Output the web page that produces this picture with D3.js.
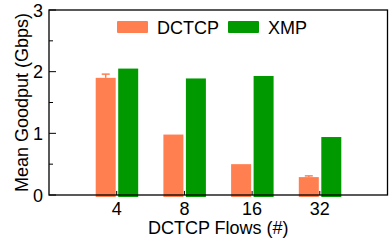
<!DOCTYPE html>
<html>
<head>
<meta charset="utf-8">
<script src="https://cdn.jsdelivr.net/npm/d3@7"></script>
<style>
  body { margin: 0; background: #fff; }
  text { font-family: "Liberation Sans", Arial, sans-serif; fill: #000; }
</style>
</head>
<body>
<svg id="chart" width="389" height="240"></svg>
<script>
const flows = ['4', '8', '16', '32']
const dctcp = [1.90, 0.98, 0.50, 0.29]
const dctcpErr = [0.06, 0, 0, 0.02]
const xmp = [2.05, 1.89, 1.93, 0.94]
const yTicks = [0, 1, 2, 3]

const colors = { DCTCP: '#ff7f50', XMP: '#009a00' }

let width = 389,
    height = 240,
    margin = { top: 10, right: 1.5, bottom: 45, left: 49 }

let svg = d3.select('#chart')

let x = d3.scaleLinear()
    .domain([0, flows.length + 1])
    .range([margin.left, width - margin.right])

let y = d3.scaleLinear()
    .domain([0, 3])
    .range([height - margin.bottom, margin.top])

let barW = 20

// bars
svg.append('g')
    .selectAll('rect.dctcp')
    .data(dctcp)
    .join('rect')
    .attr('class', 'dctcp')
    .attr('x', (d, i) => x(i + 1) - 1 - barW)
    .attr('width', barW)
    .attr('y', d => y(d))
    .attr('height', d => y(0) - y(d) + 2)
    .style('fill', colors.DCTCP)

svg.append('g')
    .selectAll('rect.xmp')
    .data(xmp)
    .join('rect')
    .attr('class', 'xmp')
    .attr('x', (d, i) => x(i + 1) + 1.5)
    .attr('width', barW)
    .attr('y', d => y(d))
    .attr('height', d => y(0) - y(d) + 2)
    .style('fill', colors.XMP)

// error bars on dctcp (only where visible)
let errData = dctcp.map((d, i) => ({ v: d, e: dctcpErr[i], i: i })).filter(d => d.e > 0)
let err = svg.append('g')
    .selectAll('g')
    .data(errData)
    .join('g')
    .style('stroke', colors.DCTCP)
    .style('stroke-width', 1.5)
err.append('line')
    .attr('x1', d => x(d.i + 1) - 1 - barW / 2)
    .attr('x2', d => x(d.i + 1) - 1 - barW / 2)
    .attr('y1', d => y(d.v))
    .attr('y2', d => y(d.v + d.e))
err.append('line')
    .attr('x1', d => x(d.i + 1) - 1 - barW / 2 - 4)
    .attr('x2', d => x(d.i + 1) - 1 - barW / 2 + 4)
    .attr('y1', d => y(d.v + d.e))
    .attr('y2', d => y(d.v + d.e))

// y axis ticks (inward, with minor)
let minor = d3.range(0.5, 3, 1)
svg.append('g')
    .selectAll('line')
    .data(yTicks.concat(minor))
    .join('line')
    .attr('x1', x(0))
    .attr('x2', d => x(0) + (d % 1 === 0 ? 7 : 4))
    .attr('y1', d => y(d))
    .attr('y2', d => y(d))
    .style('stroke', '#000')

svg.append('g')
    .selectAll('text')
    .data(yTicks)
    .join('text')
    .attr('x', x(0) - 6)
    .attr('y', d => y(d) + 6.5)
    .attr('text-anchor', 'end')
    .attr('font-size', 18)
    .text(d => d)

// x ticks
svg.append('g')
    .selectAll('line')
    .data(flows)
    .join('line')
    .attr('x1', (d, i) => x(i + 1))
    .attr('x2', (d, i) => x(i + 1))
    .attr('y1', y(0))
    .attr('y2', y(0) - 4)
    .style('stroke', '#000')

svg.append('g')
    .selectAll('text')
    .data(flows)
    .join('text')
    .attr('x', (d, i) => x(i + 1))
    .attr('y', y(0) + 19.5)
    .attr('text-anchor', 'middle')
    .attr('font-size', 18)
    .text(d => d)

// frame
svg.append('rect')
    .attr('x', x(0))
    .attr('y', y(3))
    .attr('width', x(flows.length + 1) - x(0))
    .attr('height', y(0) - y(3))
    .style('fill', 'none')
    .style('stroke', '#000')
    .style('stroke-width', 1.3)

// axis titles
svg.append('text')
    .attr('x', (x(0) + x(flows.length + 1)) / 2)
    .attr('y', 233.5)
    .attr('text-anchor', 'middle')
    .attr('font-size', 18)
    .text('DCTCP Flows (#)')

svg.append('text')
    .attr('transform', 'translate(28,' + (y(1.5)) + ') rotate(-90)')
    .attr('text-anchor', 'middle')
    .attr('font-size', 18)
    .text('Mean Goodput (Gbps)')

// legend
let legend = [
    { label: 'DCTCP', x: 117 },
    { label: 'XMP', x: 228 }
]
let lg = svg.append('g')
    .selectAll('g')
    .data(legend)
    .join('g')
    .attr('transform', d => 'translate(' + d.x + ',21)')
lg.append('rect')
    .attr('width', 31)
    .attr('height', 12)
    .attr('rx', 1)
    .style('fill', d => colors[d.label])
lg.append('text')
    .attr('x', 40)
    .attr('y', 13)
    .attr('font-size', 18)
    .text(d => d.label)
</script>
</body>
</html>
